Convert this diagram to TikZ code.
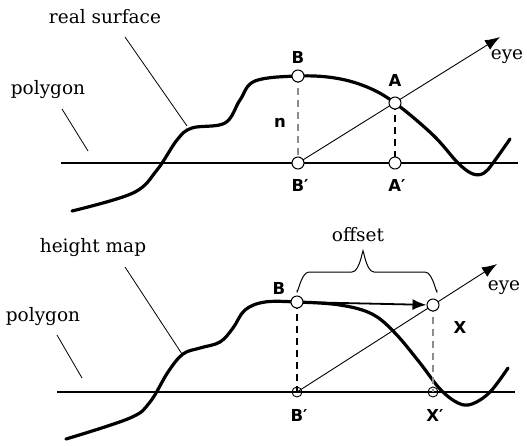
\documentclass[tikz,border=0pt]{standalone}
\usepackage{fontspec}
\setmainfont{DejaVu Serif}
\newfontfamily\labelfont{DejaVu Sans}
\usepackage{tikz}
\usetikzlibrary{arrows.meta}

\begin{document}
\begin{tikzpicture}[x=1pt,y=-1pt]
  \tikzset{surfacecurve/.style={draw=black,line width=3.2pt,line cap=round}}
  \tikzset{polyline/.style={draw=black,line width=1.8pt}}
  \tikzset{leaderline/.style={draw=black,line width=0.8pt}}
  \tikzset{viewray/.style={draw=black,line width=0.9pt,-{Latex[length=15pt,width=11pt]}}}
  \tikzset{dropgray/.style={draw=black!45,line width=1.2pt,dash pattern=on 7pt off 5pt}}
  \tikzset{dropblack/.style={draw=black,line width=1.2pt,dash pattern=on 7pt off 5pt}}
  \tikzset{pointmark/.style={circle,fill=white,draw=black,line width=1pt,inner sep=0pt,minimum size=12pt}}
  \tikzset{smallmark/.style={circle,draw=black,line width=0.9pt,inner sep=0pt,minimum size=10pt}}
  \tikzset{pointlabel/.style={font=\labelfont\bfseries\fontsize{16.5}{19}\selectfont,inner sep=1pt,text=black}}
  \tikzset{textlabel/.style={font=\fontsize{18.5}{21}\selectfont,inner sep=1pt,text=black}}
  \useasboundingbox (0,0) rectangle (527,445);
  \node[textlabel] (realsurf) at (105,17) {real surface};
  \node[textlabel] (polytop) at (48,90) {polygon};
  \coordinate (realsurfend) at (187,126);
  \coordinate (polytopend) at (88,151);
  \draw[leaderline] (125,37) -- (realsurfend);
  \draw[leaderline] (62,109) -- (polytopend);
  \coordinate (basetopleft) at (61,163);
  \coordinate (basetopright) at (518,163);
  \draw[polyline] (basetopleft) -- (basetopright);
  \draw[surfacecurve] plot[smooth,tension=0.6] coordinates {(72,211) (133,193) (157,170) (177,140) (192,128) (225,123) (240,100) (255,81) (298,76) (335,78) (367,87) (395,103) (433,135) (458,163) (473,174) (484,173) (493,163) (510,139)};
  \coordinate (Bt) at (298,76);
  \coordinate (At) at (395,103);
  \coordinate (Btp) at (298,163);
  \coordinate (Atp) at (395,163);
  \coordinate (eyetop) at (500,37);
  \draw[dropgray] (Bt) -- (Btp);
  \draw[dropblack] (At) -- (Atp);
  \draw[viewray] (Btp) -- (eyetop);
  \node[pointmark] (btop) at (Bt) {};
  \node[pointmark] (atop) at (At) {};
  \node[pointmark] (btopp) at (Btp) {};
  \node[pointmark] (atopp) at (Atp) {};
  \node[pointlabel] (lbtop) at (298,57) {B};
  \node[pointlabel] (latop) at (395,80) {A};
  \node[pointlabel] (lbtopp) at (300,185) {B′};
  \node[pointlabel] (latopp) at (397,185) {A′};
  \node[pointlabel] (lntop) at (280,123) {n};
  \node[textlabel] (eyetoplabel) at (507,57) {eye};
  \node[textlabel] (heightmap) at (93,248) {height map};
  \node[textlabel] (polybot) at (43,317) {polygon};
  \coordinate (heightmapend) at (182,354);
  \coordinate (polybotend) at (82,378);
  \draw[leaderline] (125,267) -- (heightmapend);
  \draw[leaderline] (57,335) -- (polybotend);
  \coordinate (basebotleft) at (57,392);
  \coordinate (basebotright) at (515,392);
  \draw[polyline,line width=1.3pt] (basebotleft) -- (basebotright);
  \draw[surfacecurve] plot[smooth,tension=0.6] coordinates {(66,439) (130,418) (150,402) (168,372) (183,354) (200,348) (220,342) (233,328) (245,310) (265,302) (297,302) (340,305) (372,314) (395,333) (420,363) (440,389) (458,403) (472,404) (490,392) (508,368)};
  \coordinate (Bb) at (297,302);
  \coordinate (Xb) at (433,305);
  \coordinate (Bbp) at (297,392);
  \coordinate (Xbp) at (433,392);
  \coordinate (eyebot) at (497,264);
  \draw[dropblack] (Bb) -- (Bbp);
  \draw[dropgray] (Xb) -- (Xbp);
  \draw[viewray] (Bbp) -- (eyebot);
  \node[pointmark] (bbot) at (Bb) {};
  \node[pointmark] (xbot) at (Xb) {};
  \node[smallmark] (bbotp) at (Bbp) {};
  \node[smallmark] (xbotp) at (Xbp) {};
  \draw[draw=black,line width=1.8pt,-{Latex[length=14pt,width=11pt]}] (bbot) -- (xbot);
  \draw[line width=1pt] (297,290) to[out=-90,in=180] (309,272) -- (352,272) to[out=0,in=90] (363,253) to[out=90,in=180] (374,272) -- (425,272) to[out=0,in=-90] (437,290);
  \node[textlabel] (offsetlabel) at (358,235) {offset};
  \node[pointlabel] (lbbot) at (279,288) {B};
  \node[pointlabel] (lxbot) at (460,327) {X};
  \node[pointlabel] (lbbotp) at (299,415) {B′};
  \node[pointlabel] (lxbotp) at (435,415) {X′};
  \node[textlabel] (eyebotlabel) at (504,288) {eye};
\end{tikzpicture}
\end{document}
